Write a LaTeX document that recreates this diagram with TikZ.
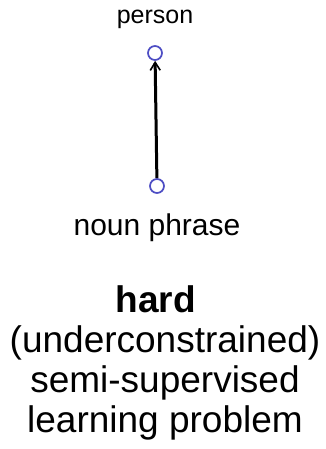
\documentclass[tikz,border=0pt]{standalone}
\usepackage{fontspec}
\setmainfont{Liberation Sans}
\usetikzlibrary{arrows.meta,positioning}
\definecolor{dotblue}{RGB}{78,78,196}

\begin{document}
\begin{tikzpicture}[x=1pt, y=1pt, >={Straight Barb[length=8pt,width=10pt,line width=1.6pt]}]
  \tikzset{
    vertex/.style={circle,draw=dotblue,line width=1.7pt,fill=white,
                   inner sep=0pt,minimum size=14pt},
    label/.style={anchor=base,inner sep=0pt}
  }
  \useasboundingbox (0,0) rectangle (325,-449);
  % the two ends of the edge
  \node[vertex] (top) at (155,-53) {};
  \node[vertex] (bot) at (157,-186) {};
  \node[label,font=\fontsize{25}{30}\selectfont] (person) at (155,-24) {person};
  \node[label,font=\fontsize{30}{36}\selectfont] (np) at (157,-235) {noun phrase};
  \draw[->,line width=3pt] (bot) -- (top);
  % caption under the graph (base = last line)
  \node[anchor=base,inner sep=0pt,align=center,
        font=\fontsize{37}{40}\selectfont] (caption) at (165,-432)
    {\textbf{hard}\hspace*{0.5em}\\(underconstrained)\\semi-supervised\\learning problem};
\end{tikzpicture}
\end{document}
